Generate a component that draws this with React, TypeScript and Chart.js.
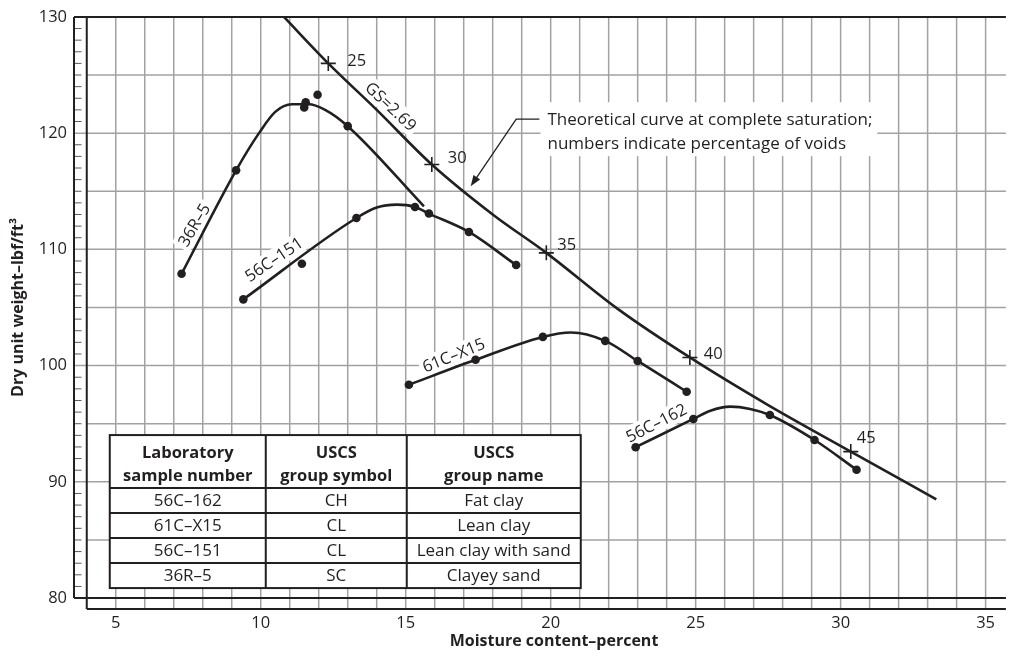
import React, { useEffect, useRef } from "react";
import { Chart, registerables } from "chart.js";

Chart.register(...registerables);

const INK = "#231f20";
const GRID = "#a2a2a2";
const FONT = "'Open Sans', 'Noto Sans', 'DejaVu Sans', sans-serif";

// Axis extents and tick labels
const X_MIN = 3.56;
const X_MAX = 35.7;
const Y_MIN = 79.06;
const Y_MAX = 130;
const xTickValues = [5, 10, 15, 20, 25, 30, 35];
const yTickValues = [80, 90, 100, 110, 120, 130];

// Saturation (zero air voids) curve, Gs = 2.69
const saturationX = [10.8, 12.33, 14.0, 15.9, 18.0, 19.85, 22.3, 24.8, 27.5, 30.35, 33.3];
const saturationY = [130.0, 126.0, 122.0, 117.3, 113.0, 109.7, 104.9, 100.7, 96.6, 92.6, 88.5];

// Void-percentage marks on the saturation curve
const voidX = [12.33, 15.9, 19.85, 24.8, 30.35];
const voidY = [126.0, 117.3, 109.7, 100.7, 92.6];
const voidLabels = ["25", "30", "35", "40", "45"];

// Sample 36R–5
const s36CurveX = [7.27, 9.15, 9.94, 10.51, 11.08, 11.65, 12.22, 13.0, 15.63];
const s36CurveY = [107.9, 116.8, 120.0, 121.85, 122.48, 122.48, 122.0, 120.6, 113.7];
const s36PointX = [7.27, 9.15, 11.5, 11.55, 11.96, 13.0];
const s36PointY = [107.9, 116.8, 122.2, 122.65, 123.3, 120.6];

// Sample 56C–151
const s151CurveX = [9.4, 13.3, 14.0, 14.7, 15.32, 15.8, 17.18, 18.81];
const s151CurveY = [105.7, 112.7, 113.6, 113.85, 113.65, 113.08, 111.5, 108.65];
const s151PointX = [9.4, 11.42, 13.3, 15.32, 15.8, 17.18, 18.81];
const s151PointY = [105.7, 108.76, 112.7, 113.65, 113.08, 111.5, 108.65];

// Sample 61C–X15
const x15CurveX = [15.11, 17.41, 19.73, 20.7, 21.88, 23.0, 24.69];
const x15CurveY = [98.35, 100.5, 102.47, 102.85, 102.13, 100.4, 97.75];
const x15PointX = [15.11, 17.41, 19.73, 21.88, 23.0, 24.69];
const x15PointY = [98.35, 100.5, 102.47, 102.13, 100.4, 97.75];

// Sample 56C–162
const s162CurveX = [22.93, 24.92, 25.51, 26.2, 26.88, 27.56, 29.1, 30.55];
const s162CurveY = [92.98, 95.41, 96.12, 96.47, 96.27, 95.75, 93.6, 91.04];
const s162PointX = [22.93, 24.92, 27.56, 29.1, 30.55];
const s162PointY = [92.98, 95.41, 95.75, 93.6, 91.04];

// Classification table
const tableHeader = [
  ["Laboratory", "sample number"],
  ["USCS", "group symbol"],
  ["USCS", "group name"],
];
const sampleNumbers = ["56C–162", "61C–X15", "56C–151", "36R–5"];
const groupSymbols = ["CH", "CL", "CL", "SC"];
const groupNames = ["Fat clay", "Lean clay", "Lean clay with sand", "Clayey sand"];

const noteLines = [
  "Theoretical curve at complete saturation;",
  "numbers indicate percentage of voids",
];

// Placement of the text drawn inside the plot (value coordinates, degrees)
const curveLabelPlacement = [
  { text: "36R–5", x: 7.7, y: 112.1, angle: -59 },
  { text: "56C–151", x: 10.45, y: 109.15, angle: -34 },
  { text: "61C–X15", x: 16.65, y: 100.9, angle: -22 },
  { text: "56C–162", x: 23.64, y: 95.07, angle: -27 },
  { text: "GS=2.69", x: 14.49, y: 122.3, angle: 43 },
];
const voidLabelOffsets = [
  [19, -2],
  [16, -6],
  [11, -8],
  [14, -3],
  [6, -13],
];
const noteAnchor = { x: 19.89, y: 121.2 };
const leaderStart = { x: 19.61, y: 121.2 };
const leaderElbow = { x: 18.81, y: 121.2 };
const leaderTip = { x: 17.24, y: 115.42 };

const pts = (xs: number[], ys: number[]) => xs.map((x, i) => ({ x, y: ys[i] }));

const curve = (label: string, xs: number[], ys: number[]) => ({
  label,
  type: "line" as const,
  data: pts(xs, ys),
  borderColor: INK,
  borderWidth: 2.6,
  pointRadius: 0,
  fill: false,
  showLine: true,
  cubicInterpolationMode: "monotone" as const,
});

const dots = (label: string, xs: number[], ys: number[]) => ({
  label,
  type: "scatter" as const,
  data: pts(xs, ys),
  pointRadius: 4.3,
  pointBackgroundColor: INK,
  pointBorderColor: INK,
  pointBorderWidth: 0,
  showLine: false,
});

function boxedText(ctx: CanvasRenderingContext2D, text: string, x: number, y: number, angle: number) {
  ctx.save();
  ctx.translate(x, y);
  ctx.rotate((angle * Math.PI) / 180);
  ctx.font = `16.5px ${FONT}`;
  const w = ctx.measureText(text).width;
  ctx.fillStyle = "#fff";
  ctx.fillRect(-w / 2 - 3, -10, w + 6, 20);
  ctx.fillStyle = INK;
  ctx.textAlign = "center";
  ctx.textBaseline = "middle";
  ctx.fillText(text, 0, 1);
  ctx.restore();
}

function drawTable(ctx: CanvasRenderingContext2D, left: number, bottom: number) {
  const colW = [156, 141, 174];
  const headerH = 53;
  const rowH = 25;
  const cols = [sampleNumbers, groupSymbols, groupNames];
  const width = colW.reduce((a, b) => a + b, 0);
  const height = headerH + rowH * sampleNumbers.length;
  const top = bottom - height;

  ctx.save();
  ctx.fillStyle = "#fff";
  ctx.fillRect(left, top, width, height);
  ctx.strokeStyle = INK;
  ctx.lineWidth = 2;
  ctx.strokeRect(left, top, width, height);
  ctx.beginPath();
  let cx = left;
  for (let c = 0; c < colW.length - 1; c++) {
    cx += colW[c];
    ctx.moveTo(cx, top);
    ctx.lineTo(cx, bottom);
  }
  for (let r = 0; r < sampleNumbers.length; r++) {
    const y = top + headerH + r * rowH;
    ctx.moveTo(left, y);
    ctx.lineTo(left + width, y);
  }
  ctx.stroke();

  ctx.fillStyle = INK;
  ctx.textAlign = "center";
  ctx.textBaseline = "middle";
  cx = left;
  for (let c = 0; c < colW.length; c++) {
    const mid = cx + colW[c] / 2;
    ctx.font = `bold 16.5px ${FONT}`;
    ctx.fillText(tableHeader[c][0], mid, top + 18);
    ctx.fillText(tableHeader[c][1], mid, top + 41);
    ctx.font = `17px ${FONT}`;
    cols[c].forEach((t, r) => {
      ctx.fillText(t, mid, top + headerH + r * rowH + rowH / 2 + 1);
    });
    cx += colW[c];
  }
  ctx.restore();
}

const paperPlugin = {
  id: "paper",
  beforeDatasetsDraw(chart: any) {
    const { ctx, chartArea: a, scales } = chart;
    const px = (v: number) => scales.x.getPixelForValue(v);
    const py = (v: number) => scales.y.getPixelForValue(v);
    ctx.save();

    // light grid: every 1 % of moisture, every 5 lbf/ft³ of weight
    ctx.strokeStyle = GRID;
    ctx.lineWidth = 1.5;
    ctx.beginPath();
    for (let v = 5; v <= 35; v++) {
      const x = px(v);
      ctx.moveTo(x, a.top);
      ctx.lineTo(x, a.bottom);
    }
    for (let v = 85; v <= 125; v += 5) {
      const y = py(v);
      ctx.moveTo(v % 10 === 0 ? a.left : px(4), y);
      ctx.lineTo(a.right, y);
    }
    ctx.stroke();

    // minor ticks on the outer weight axis
    ctx.strokeStyle = "#5a5a5a";
    ctx.lineWidth = 1;
    ctx.beginPath();
    for (let v = 81; v < 130; v++) {
      if (v % 10 === 0) continue;
      const y = py(v);
      ctx.moveTo(a.left, y);
      ctx.lineTo(a.left + 7.5, y);
    }
    ctx.stroke();

    // heavy frame lines
    ctx.strokeStyle = INK;
    ctx.lineWidth = 2;
    ctx.beginPath();
    ctx.moveTo(a.left, py(130));
    ctx.lineTo(a.right, py(130));
    ctx.moveTo(a.left, py(130));
    ctx.lineTo(a.left, py(80));
    ctx.moveTo(a.left, py(80));
    ctx.lineTo(a.right, py(80));
    ctx.moveTo(px(4), py(130));
    ctx.lineTo(px(4), a.bottom);
    ctx.moveTo(px(4), a.bottom);
    ctx.lineTo(a.right, a.bottom);
    ctx.stroke();

    // curve names
    curveLabelPlacement.forEach((l) => boxedText(ctx, l.text, px(l.x), py(l.y), l.angle));

    // note with leader arrow
    ctx.font = `17px ${FONT}`;
    const nx = px(noteAnchor.x);
    const ny = py(noteAnchor.y);
    const nw = Math.max(...noteLines.map((t) => ctx.measureText(t).width));
    ctx.fillStyle = "#fff";
    ctx.fillRect(nx - 7, ny - 17, nw + 12, 54);
    ctx.fillStyle = INK;
    ctx.textAlign = "left";
    ctx.textBaseline = "middle";
    noteLines.forEach((t, i) => ctx.fillText(t, nx, ny + 1 + i * 23.5));

    const sx = px(leaderStart.x), sy = py(leaderStart.y);
    const ex = px(leaderElbow.x), ey = py(leaderElbow.y);
    const tx = px(leaderTip.x), ty = py(leaderTip.y);
    ctx.strokeStyle = INK;
    ctx.lineWidth = 1.3;
    ctx.beginPath();
    ctx.moveTo(sx, sy);
    ctx.lineTo(ex, ey);
    const ang = Math.atan2(ty - ey, tx - ex);
    const headLen = 11;
    ctx.lineTo(tx - Math.cos(ang) * headLen * 0.8, ty - Math.sin(ang) * headLen * 0.8);
    ctx.stroke();
    ctx.beginPath();
    ctx.moveTo(tx, ty);
    ctx.lineTo(tx - headLen * Math.cos(ang) + 4 * Math.sin(ang), ty - headLen * Math.sin(ang) - 4 * Math.cos(ang));
    ctx.lineTo(tx - headLen * Math.cos(ang) - 4 * Math.sin(ang), ty - headLen * Math.sin(ang) + 4 * Math.cos(ang));
    ctx.closePath();
    ctx.fillStyle = INK;
    ctx.fill();

    // classification table
    drawTable(ctx, px(4) + 23, py(80) - 10);
    ctx.restore();
  },
  afterDatasetsDraw(chart: any) {
    const { ctx, scales } = chart;
    ctx.save();
    ctx.font = `16.5px ${FONT}`;
    ctx.fillStyle = INK;
    ctx.textAlign = "left";
    ctx.textBaseline = "middle";
    voidLabels.forEach((t, i) => {
      const x = scales.x.getPixelForValue(voidX[i]) + voidLabelOffsets[i][0];
      const y = scales.y.getPixelForValue(voidY[i]) + voidLabelOffsets[i][1];
      ctx.fillText(t, x, y);
    });
    ctx.restore();
  },
  afterDraw(chart: any) {
    const { ctx, scales } = chart;
    ctx.save();
    ctx.fillStyle = INK;
    ctx.font = `bold 16px ${FONT}`;
    ctx.textAlign = "center";
    ctx.textBaseline = "middle";
    ctx.fillText("Moisture content–percent", 554, 641);
    ctx.translate(18, (scales.y.getPixelForValue(130) + scales.y.getPixelForValue(80)) / 2);
    ctx.rotate(-Math.PI / 2);
    ctx.fillText("Dry unit weight–lbf/ft³", 0, 0);
    ctx.restore();
  },
};

export default function App() {
  const ref = useRef<HTMLCanvasElement>(null);

  useEffect(() => {
    if (!ref.current) return;
    const chart = new Chart(ref.current, {
      type: "scatter",
      data: {
        datasets: [
          curve("Saturation", saturationX, saturationY),
          {
            label: "Void marks",
            type: "scatter",
            data: pts(voidX, voidY),
            pointStyle: "cross",
            pointRadius: 7.5,
            pointBorderWidth: 1.6,
            pointBorderColor: INK,
            showLine: false,
          },
          curve("36R–5", s36CurveX, s36CurveY),
          dots("36R–5 tests", s36PointX, s36PointY),
          curve("56C–151", s151CurveX, s151CurveY),
          dots("56C–151 tests", s151PointX, s151PointY),
          curve("61C–X15", x15CurveX, x15CurveY),
          dots("61C–X15 tests", x15PointX, x15PointY),
          curve("56C–162", s162CurveX, s162CurveY),
          dots("56C–162 tests", s162PointX, s162PointY),
        ] as any,
      },
      options: {
        responsive: false,
        animation: false,
        layout: { padding: { top: 15, left: 0, right: 0, bottom: 0 } },
        plugins: {
          legend: { display: false },
          tooltip: { enabled: false },
        },
        scales: {
          x: {
            type: "linear",
            min: X_MIN,
            max: X_MAX,
            afterBuildTicks: (s: any) => {
              s.ticks = xTickValues.map((value) => ({ value }));
            },
            afterFit: (s: any) => {
              s.height = 51;
            },
            grid: { display: false, drawTicks: false },
            border: { display: false },
            ticks: {
              autoSkip: false,
              maxRotation: 0,
              padding: 4,
              color: INK,
              font: { family: FONT, size: 16.5 },
              callback: (v: any) => String(v),
            },
          },
          y: {
            type: "linear",
            min: Y_MIN,
            max: Y_MAX,
            afterBuildTicks: (s: any) => {
              s.ticks = yTickValues.map((value) => ({ value }));
            },
            afterFit: (s: any) => {
              s.width = 74;
            },
            grid: { display: false, drawTicks: false },
            border: { display: false },
            ticks: {
              padding: 7,
              color: INK,
              font: { family: FONT, size: 16.5 },
              callback: (v: any) => String(v),
            },
          },
        },
      },
      plugins: [paperPlugin],
    });
    return () => chart.destroy();
  }, []);

  return (
    <div style={{ position: "absolute", left: 0, top: 0, width: 1015, height: 660, background: "#fff" }}>
      <canvas ref={ref} width={1015} height={660} style={{ display: "block" }} />
    </div>
  );
}
